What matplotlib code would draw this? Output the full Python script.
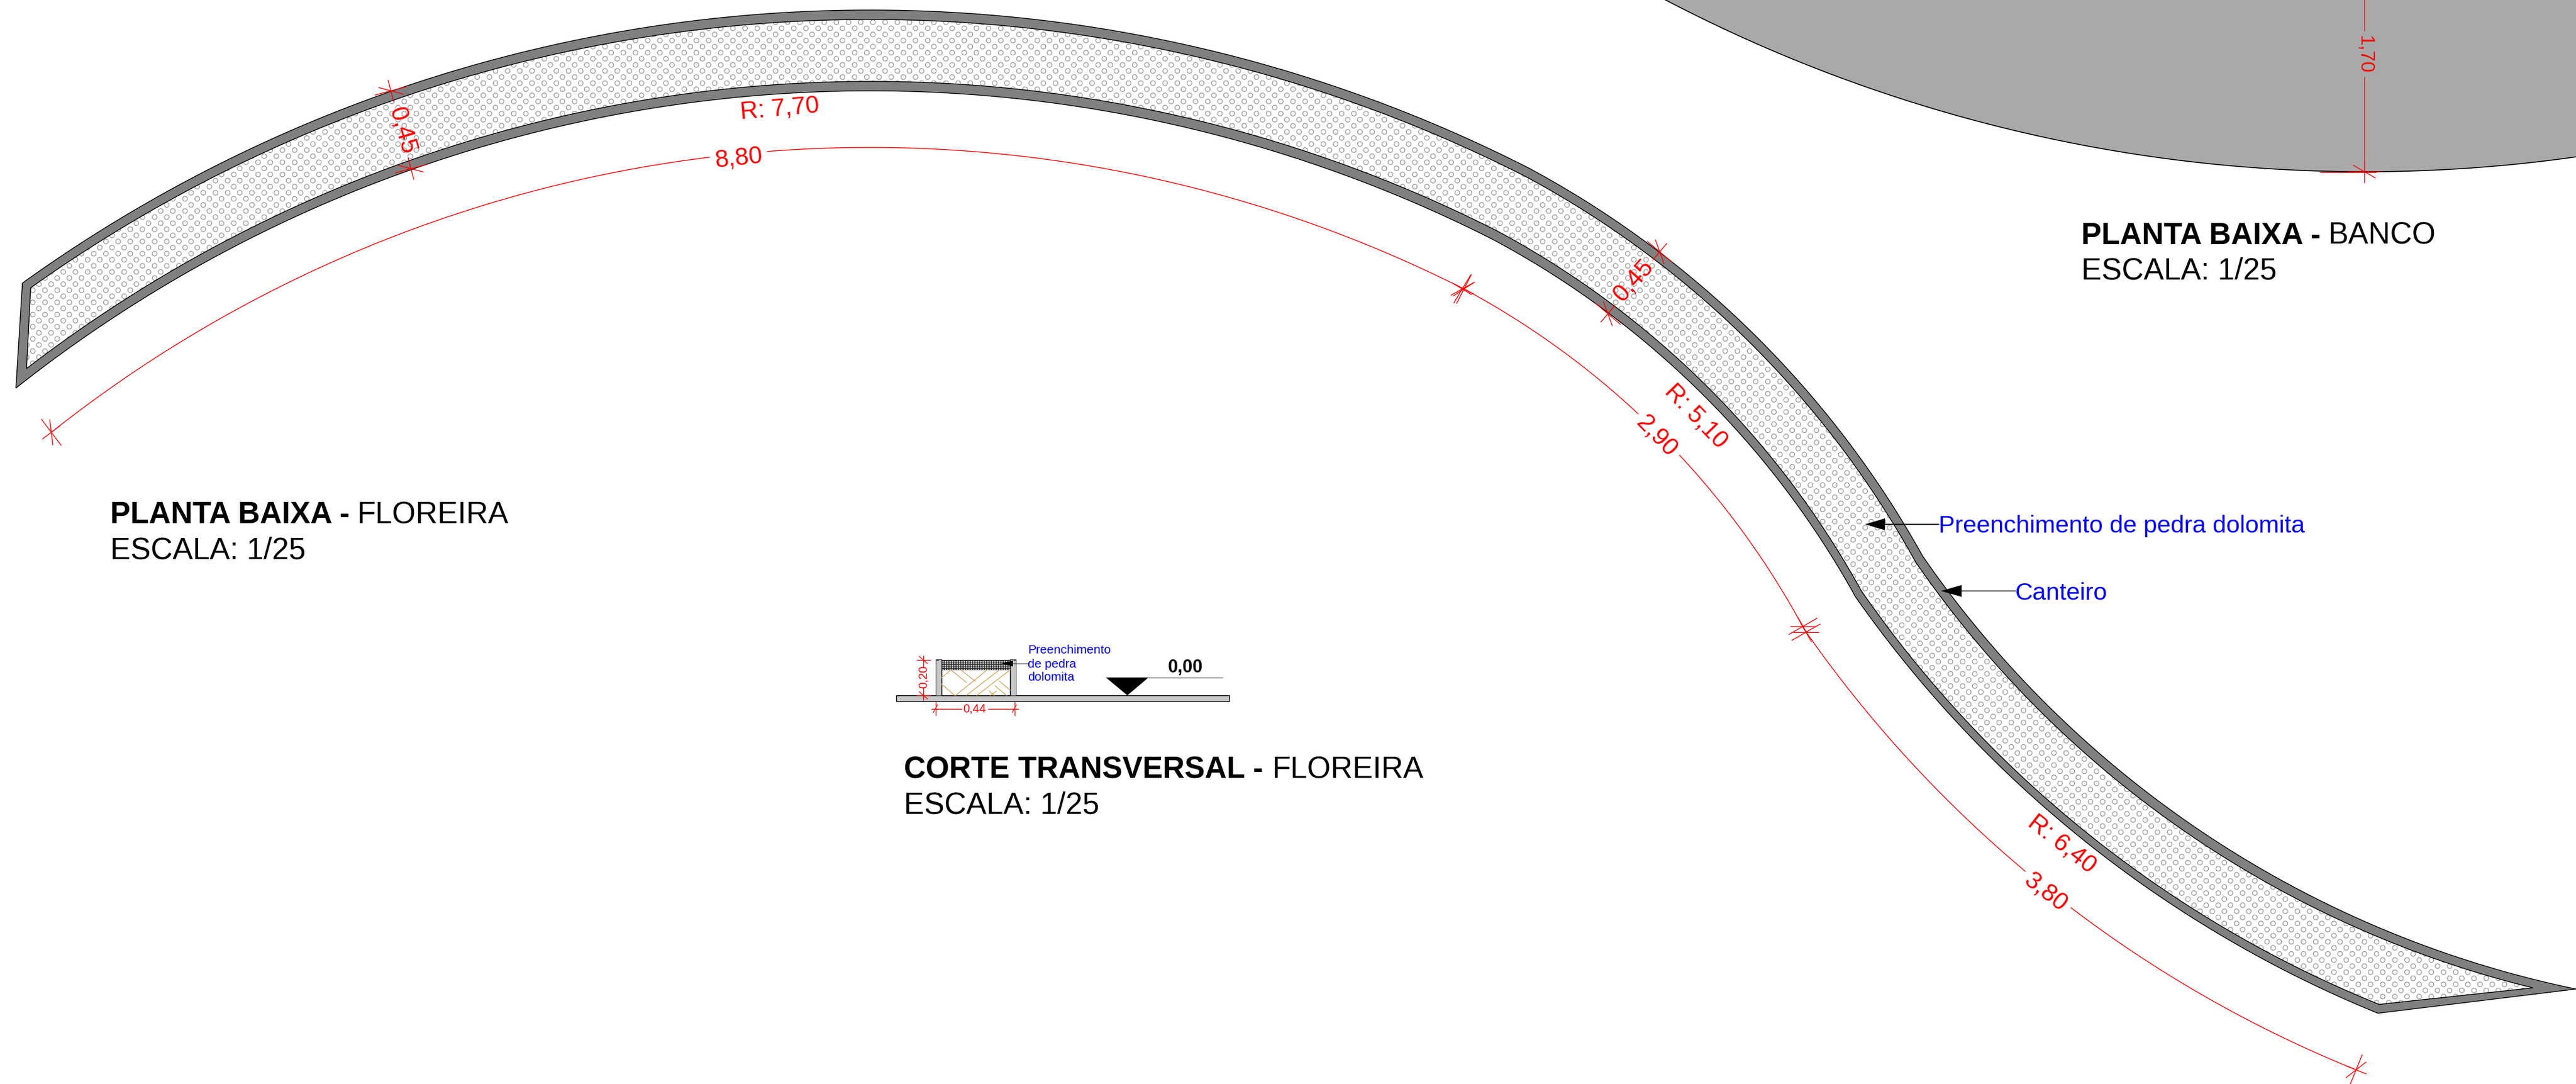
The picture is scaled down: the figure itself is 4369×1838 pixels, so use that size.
import numpy as np
import matplotlib
matplotlib.use("Agg")
import matplotlib.pyplot as plt
from matplotlib.patches import Polygon, Rectangle

plt.rcParams['font.family'] = ['Liberation Sans', 'DejaVu Sans']

W, H = 4369, 1838

# Planter edges: each arc is start / mid / end, read in picture pixels
OUTER_TOP = [[(38, 480), (1475, 17), (2593, 285)],
             [(2593, 285), (2974, 566), (3261, 943)],
             [(3261, 943), (3650, 1350), (4369, 1677)]]
OUTER_BOTTOM = [[(27, 658), (1475, 154), (2530, 405)],
                [(2530, 405), (2883, 664), (3147, 1012)],
                [(3147, 1012), (3630, 1497), (4033, 1718)]]
INNER_TOP = [[(52, 488), (1475, 33), (2585, 298)],
             [(2585, 298), (2965, 578), (3249, 953)],
             [(3249, 953), (3641, 1363), (4296, 1675)]]
INNER_BOTTOM = [[(45, 625), (1475, 138), (2540, 392)],
                [(2540, 392), (2892, 652), (3157, 1002)],
                [(3157, 1002), (3653, 1497), (4035, 1703)]]
BENCH_EDGE = [(2825, 0), (3600, 258), (4369, 266)]

# Dimension arcs
DIM_ARCS = [[(87, 733), (1475, 250), (2483, 490)],
            [(2483, 490), (2813, 735), (3060, 1067)],
            [(3060, 1067), (3470, 1506), (3996, 1814)]]
# tick x, y, direction of the dimension line in degrees (y down)
DIM_TICKS = [(87, 733, -37), (663, 154, 75), (697, 286, 75),
             (2815, 427, -50), (2727, 532, -50),
             (2483, 490, 27), (2480, 490, 31),
             (3058, 1062, 60), (3063, 1072, 60), (3996, 1814, 22),
             (4010, 291, 90)]
# label, x, y, rotation
DIM_LABELS = [("8,80", 1253, 268, 6), ("R: 7,70", 1322, 185, 5),
              ("0,45", 682, 222, -74), ("0,45", 2770, 476, 48),
              ("R: 5,10", 2877, 706, -46), ("2,90", 2810, 740, -46),
              ("R: 6,40", 3497, 1431, -38), ("3,80", 3470, 1513, -38)]
BENCH_DIM_X = [4010, 4010]
BENCH_DIM_Y = [0, 306]

# Section detail
SLAB = (1520, 1179, 565, 10)
WALLS = [(1586.5, 1118, 10, 61), (1712.7, 1118, 10, 61)]
STONE = (1596.5, 1119, 116.2, 16)
SOIL = (1596.5, 1135, 116.2, 44)
SOIL_LINES = [[(1597, 1149), (1613, 1136)], [(1621, 1179), (1674, 1136)],
              [(1639, 1179), (1695, 1136)], [(1657, 1179), (1713, 1136)],
              [(1680, 1179), (1690, 1172)], [(1597, 1160), (1619, 1179)],
              [(1613, 1136), (1639, 1157)], [(1630, 1136), (1654, 1155)],
              [(1695, 1155), (1713, 1170)], [(1688, 1163), (1707, 1179)],
              [(1678, 1172), (1686, 1179)]]
LEVEL_TRIANGLE = [(1875.6, 1148.7), (1948, 1148.7), (1912, 1179)]
LEVEL_LINE_X = [1948, 2073]
LEVEL_LINE_Y = [1149, 1149]

RED, BLUE = '#ff0000', '#0000ff'
GREY, BENCH, GROUND = '#808080', '#a9a9a9', '#c8c8c8'


def arc3(p0, pm, p1, n=120):
    (ax_, ay), (bx, by), (cx, cy) = p0, pm, p1
    d = 2 * (ax_ * (by - cy) + bx * (cy - ay) + cx * (ay - by))
    ux = ((ax_**2 + ay**2) * (by - cy) + (bx**2 + by**2) * (cy - ay) + (cx**2 + cy**2) * (ay - by)) / d
    uy = ((ax_**2 + ay**2) * (cx - bx) + (bx**2 + by**2) * (ax_ - cx) + (cx**2 + cy**2) * (bx - ax_)) / d
    r = np.hypot(ax_ - ux, ay - uy)
    a0 = np.arctan2(ay - uy, ax_ - ux)
    am = np.arctan2(by - uy, bx - ux)
    a1 = np.arctan2(cy - uy, cx - ux)
    d1 = (a1 - a0) % (2 * np.pi)
    dm = (am - a0) % (2 * np.pi)
    sweep = d1 if dm < d1 else d1 - 2 * np.pi
    t = a0 + np.linspace(0, sweep, n)
    return np.column_stack([ux + r * np.cos(t), uy + r * np.sin(t)])


def chain(arcs):
    return np.vstack([arc3(*a) for a in arcs])


def tick(ax, x, y, angle, scale=1.0, lw=1.0):
    for off, half in ((0, 19), (90, 28), (-60, 22)):
        t = np.radians(angle + off)
        dx, dy = half * scale * np.cos(t), half * scale * np.sin(t)
        ax.plot([x - dx, x + dx], [y - dy, y + dy], color=RED, lw=lw, zorder=8,
                solid_capstyle='butt')


def dots(ax, box, clip, step, diam, edge, face='none', lw=0.85, x0=66.0, y0=481.7, z=3):
    x1, y1, x2, y2 = box
    i = np.arange(np.floor((x1 - x0) / step), np.ceil((x2 - x0) / step) + 1)
    j = np.arange(np.floor((y1 - y0) / step), np.ceil((y2 - y0) / step) + 1)
    I, J = np.meshgrid(i, j)
    keep = (I + J) % 2 == 0
    pts = np.column_stack([x0 + I[keep] * step, y0 + J[keep] * step])
    inside = clip.get_path().contains_points(pts, radius=diam)
    pts = pts[inside]
    sc = ax.scatter(pts[:, 0], pts[:, 1], s=(diam * 0.72)**2, facecolors=face,
                    edgecolors=edge, linewidths=lw, zorder=z)
    sc.set_clip_path(clip)


fig = plt.figure(figsize=(W / 100, H / 100), dpi=100)
ax = fig.add_axes([0, 0, 1, 1])
ax.set_xlim(0, W)
ax.set_ylim(H, 0)
ax.axis('off')

# Bench
b = arc3(*BENCH_EDGE)
bench_poly = np.vstack([b, [(W, 266), (W, 0)]])
ax.add_patch(Polygon(bench_poly, closed=True, fc=BENCH, ec='none', zorder=1))
ax.plot(b[:, 0], b[:, 1], color='black', lw=1.2, zorder=2)

# Planter
outer = np.vstack([chain(OUTER_TOP), chain(OUTER_BOTTOM)[::-1]])
inner = np.vstack([chain(INNER_TOP), chain(INNER_BOTTOM)[::-1]])
ax.add_patch(Polygon(outer, closed=True, fc=GREY, ec='black', lw=1.0, zorder=2, joinstyle='miter'))
inner_patch = Polygon(inner, closed=True, fc='white', ec='none', zorder=2.5)
ax.add_patch(inner_patch)
dots(ax, (0, 0, W, H), inner_patch, 10.325, 8.0, '#929292')
ax.add_patch(Polygon(inner, closed=True, fc='none', ec='black', lw=1.0, zorder=4, joinstyle='miter'))

# Dimensions
for a in DIM_ARCS:
    p = arc3(*a)
    ax.plot(p[:, 0], p[:, 1], color=RED, lw=1.0, zorder=5)
for x, y, ang in DIM_TICKS:
    tick(ax, x, y, ang)
ax.plot([3935, 4030], [292, 292], color=RED, lw=1.0, zorder=8)
ax.plot(BENCH_DIM_X, BENCH_DIM_Y, color=RED, lw=0.8, zorder=5)
for s, x, y, r in DIM_LABELS:
    on_white = s in ("8,80", "2,90", "3,80")
    ax.text(x, y, s, color=RED, fontsize=30, ha='center', va='center', rotation=r,
            rotation_mode='anchor', zorder=9,
            bbox=dict(fc='white', ec='none', pad=6) if on_white else None)
ax.text(4010, 92, "1,70", color=RED, fontsize=24, ha='center', va='center', rotation=-90,
        rotation_mode='anchor', zorder=9, bbox=dict(fc=BENCH, ec='none', pad=5))

# Titles
r = fig.canvas.get_renderer()


def title(x, y, bold, plain, gap):
    t = ax.text(x, y, bold, fontsize=37, fontweight='bold', va='baseline', ha='left', color='black', zorder=10)
    w = t.get_window_extent(r).width
    ax.text(x + w + gap, y, plain, fontsize=37, va='baseline', ha='left', color='black', zorder=10)
    ax.text(x, y + 60, "ESCALA: 1/25", fontsize=37, va='baseline', ha='left', color='black', zorder=10)


title(3530, 414, "PLANTA BAIXA -", "BANCO", 13)
title(187, 887, "PLANTA BAIXA -", "FLOREIRA", 13)
title(1533, 1319, "CORTE TRANSVERSAL -", "FLOREIRA", 16)

# Callouts
ax.plot([3197, 3288], [889, 889], color='black', lw=1.2, zorder=9)
ax.add_patch(Polygon([(3163, 889), (3197, 879), (3197, 899)], closed=True, fc='black', ec='none', zorder=9))
ax.text(3288, 892, "Preenchimento de pedra dolomita", color=BLUE, fontsize=29.8, va='center', ha='left', zorder=10)
ax.plot([3327, 3418], [1002, 1002], color='#333333', lw=1.2, zorder=9)
ax.add_patch(Polygon([(3292, 1002), (3327, 992), (3327, 1012)], closed=True, fc='black', ec='none', zorder=9))
ax.text(3418, 1006, "Canteiro", color=BLUE, fontsize=29.8, va='center', ha='left', zorder=10)

# Section detail
ax.add_patch(Rectangle(SLAB[:2], SLAB[2], SLAB[3], fc=GROUND, ec='black', lw=1.0, zorder=3))
for w_ in WALLS:
    ax.add_patch(Rectangle(w_[:2], w_[2], w_[3], fc=GROUND, ec='#444444', lw=0.8, zorder=3))
ax.add_patch(Rectangle(SOIL[:2], SOIL[2], SOIL[3], fc='white', ec='black', lw=1.0, zorder=3))
for seg in SOIL_LINES:
    ax.plot(*zip(*seg), color='#d9a860', lw=1.0, zorder=3.5)
stone = Rectangle(STONE[:2], STONE[2], STONE[3], fc='#333333', ec='black', lw=0.8, zorder=3)
ax.add_patch(stone)
sc_box = (STONE[0], STONE[1], STONE[0] + STONE[2], STONE[1] + STONE[3])
xs, ys = np.meshgrid(np.arange(sc_box[0] + 2, sc_box[2], 4.0), np.arange(sc_box[1] + 2, sc_box[3], 3.4))
ax.scatter(xs.ravel(), ys.ravel(), s=(2.4 * 0.72)**2, c='#e4e4e4', linewidths=0, zorder=3.6)
ax.plot([1586.5, 1722.7], [1118.5, 1118.5], color='#333333', lw=0.9, ls=(0, (4, 3)), zorder=4)
ax.plot([1718, 1743], [1125, 1125], color='#444444', lw=0.9, zorder=5)
ax.add_patch(Polygon([(1698, 1125), (1718, 1120), (1718, 1130)], closed=True, fc='black', ec='none', zorder=5))
for s, y in (("Preenchimento", 1102), ("de pedra", 1126), ("dolomita", 1148)):
    ax.text(1743, y, s, color=BLUE, fontsize=15, va='center', ha='left', zorder=10)
ax.add_patch(Polygon(LEVEL_TRIANGLE, closed=True, fc='black', ec='none', zorder=5))
ax.plot(LEVEL_LINE_X, LEVEL_LINE_Y, color='#555555', lw=1.0, zorder=5)
ax.text(2011, 1140, "0,00", color='black', fontsize=22, fontweight='bold', va='baseline', ha='center', zorder=10)

# Section dimensions
ax.plot([1566, 1566], [1112, 1131], color=RED, lw=0.9, zorder=8)
ax.plot([1566, 1566], [1167, 1187], color=RED, lw=0.9, zorder=8)
ax.plot([1555, 1578], [1119, 1119], color=RED, lw=0.9, zorder=8)
ax.plot([1555, 1578], [1179, 1179], color=RED, lw=0.9, zorder=8)
ax.plot([1559, 1573], [1113, 1125], color=RED, lw=0.9, zorder=8)
ax.plot([1559, 1573], [1173, 1185], color=RED, lw=0.9, zorder=8)
ax.text(1566, 1148, "0,20", color=RED, fontsize=14.5, ha='center', va='center', rotation=90,
        rotation_mode='anchor', zorder=9)
ax.plot([1580, 1631], [1201.7, 1201.7], color=RED, lw=0.9, zorder=8)
ax.plot([1676, 1727], [1201.7, 1201.7], color=RED, lw=0.9, zorder=8)
ax.plot([1586.5, 1586.5], [1190, 1213], color=RED, lw=0.9, zorder=8)
ax.plot([1720.7, 1720.7], [1190, 1213], color=RED, lw=0.9, zorder=8)
ax.plot([1583, 1590], [1208, 1195], color=RED, lw=0.9, zorder=8)
ax.plot([1717, 1724], [1208, 1195], color=RED, lw=0.9, zorder=8)
ax.text(1653, 1201.7, "0,44", color=RED, fontsize=14.5, ha='center', va='center', zorder=9)

fig.savefig('out.png', dpi=100, facecolor='white')
